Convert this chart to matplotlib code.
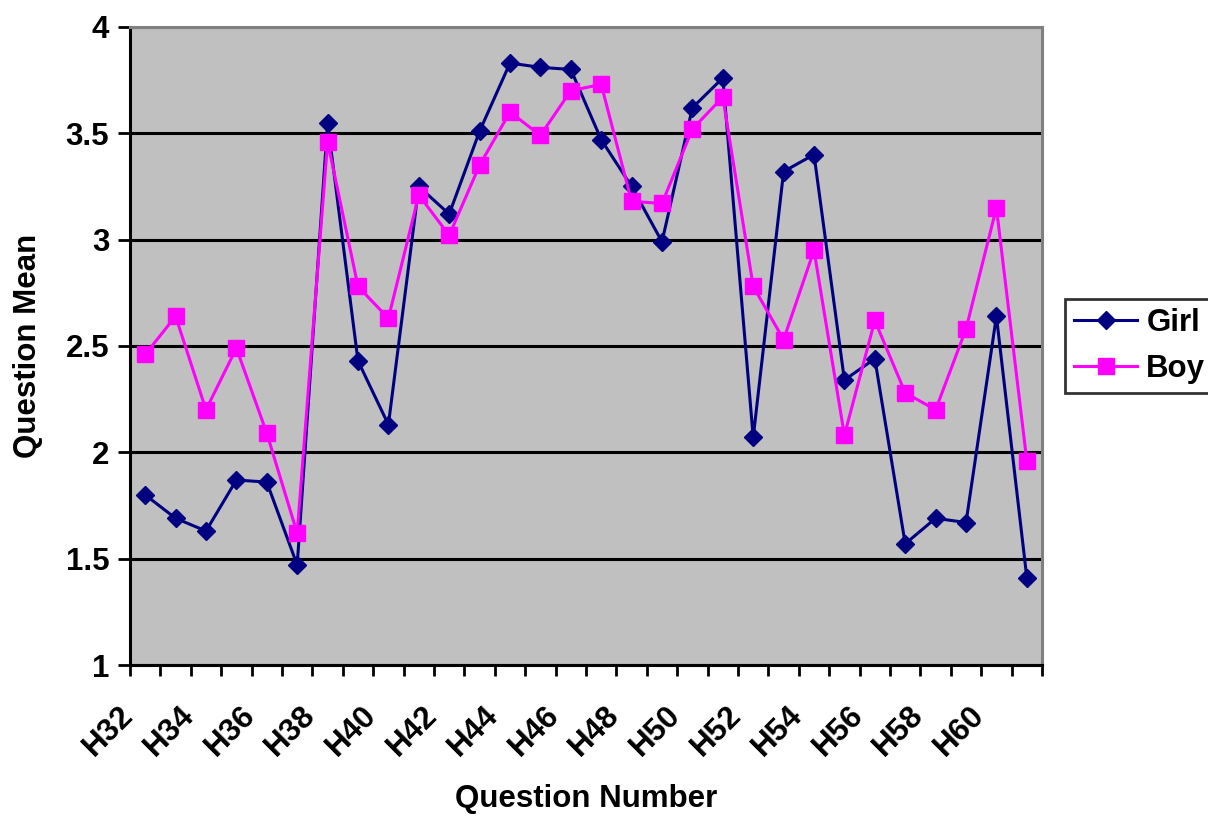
"""Question means by gender, H32-H61"""

import matplotlib.pyplot as plt
import matplotlib.transforms as mtransforms
import numpy as np

plt.rcParams["font.family"] = ["Liberation Sans", "DejaVu Sans"]
plt.rcParams["font.weight"] = "bold"
FS = 22.5

questions = [f"H{n}" for n in range(32, 62)]
girl = [1.80, 1.69, 1.63, 1.87, 1.86, 1.47, 3.55, 2.43, 2.13, 3.25,
        3.12, 3.51, 3.83, 3.81, 3.80, 3.47, 3.25, 2.99, 3.62, 3.76,
        2.07, 3.32, 3.40, 2.34, 2.44, 1.57, 1.69, 1.67, 2.64, 1.41]
boy = [2.46, 2.64, 2.20, 2.49, 2.09, 1.62, 3.46, 2.78, 2.63, 3.21,
       3.02, 3.35, 3.60, 3.49, 3.70, 3.73, 3.18, 3.17, 3.52, 3.67,
       2.78, 2.53, 2.95, 2.08, 2.62, 2.28, 2.20, 2.58, 3.15, 1.96]

fig = plt.figure(figsize=(12.08, 8.16), dpi=100)
ax = fig.add_axes([0.1076, 0.185, 0.755, 0.782])
ax.set_facecolor("#c0c0c0")

x = np.arange(len(questions))
ax.plot(x, girl, color="#000080", lw=2.2, marker="D", ms=9.5, label="Girl", zorder=3)
ax.plot(x, boy, color="#ff00ff", lw=2.2, marker="s", ms=11, label="Boy", zorder=3)

ax.set_xlim(-0.5, len(questions) - 0.5)
ax.set_ylim(1, 4)
ax.set_yticks(np.arange(1, 4.01, 0.5))
ax.set_yticklabels(["1", "1.5", "2", "2.5", "3", "3.5", "4"])
ax.yaxis.grid(True, color="black", lw=2.2)
ax.set_axisbelow(True)

# boundary ticks between categories, labels on every other question
ax.set_xticks(np.arange(-0.5, len(questions), 1.0))
ax.set_xticklabels([])
ax.set_xticks(x[::2], minor=True)
ax.set_xticklabels(questions[::2], minor=True, rotation=45, ha="right", va="top",
                   rotation_mode="anchor", fontsize=FS, fontweight="bold")
ax.tick_params(axis="x", which="minor", length=0, pad=25)
ax.tick_params(axis="x", which="major", direction="out", length=8, width=2)
ax.tick_params(axis="y", direction="out", length=9, width=2, labelsize=FS, pad=6)
shift = mtransforms.ScaledTranslation(-27 / 100, 0, fig.dpi_scale_trans)
for lbl in ax.get_xticklabels(minor=True):
    lbl.set_transform(lbl.get_transform() + shift)

for side in ("left", "bottom"):
    ax.spines[side].set_linewidth(2.2)
    ax.spines[side].set_color("black")
for side in ("top", "right"):
    ax.spines[side].set_linewidth(2.2)
    ax.spines[side].set_color("#808080")

ax.set_xlabel("Question Number", fontsize=FS, fontweight="bold", labelpad=16)
ax.set_ylabel("Question Mean", fontsize=FS, fontweight="bold", labelpad=16)

leg = ax.legend(loc="center left", bbox_to_anchor=(1.0252, 0.5), borderaxespad=0,
                fontsize=FS, frameon=True, fancybox=False, edgecolor="black",
                handlelength=2.0, handletextpad=0.3, borderpad=0.3,
                labelspacing=0.5)
leg.get_frame().set_linewidth(2)
for text in leg.get_texts():
    text.set_fontweight("bold")

fig.savefig("out.png", dpi=100)
